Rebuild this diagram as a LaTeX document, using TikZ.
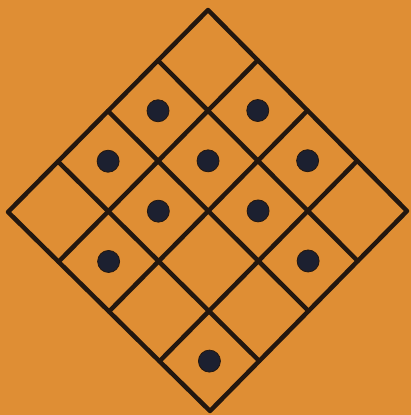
\documentclass[tikz,border=0pt]{standalone}
\usetikzlibrary{calc}
\definecolor{bg}{HTML}{DF8E34}
\definecolor{ink}{HTML}{23170F}
\definecolor{dotc}{HTML}{1C2030}
\tikzset{gridline/.style={draw=ink,line width=4.5pt,line cap=round,line join=round},
 blackdot/.style={circle,fill=dotc,draw=ink,line width=0.8pt,minimum size=22pt,inner sep=0pt}}
\begin{document}
\begin{tikzpicture}[x=1pt,y=-1pt]
\fill[bg] (0,0) rectangle (411,415);
\useasboundingbox (0,0) rectangle (411,415);
\coordinate (T) at (208,10);
\coordinate (R) at (407,211);
\coordinate (B) at (210,411);
\coordinate (L) at (8,212);
\draw[gridline] (T) -- (R) -- (B) -- (L) -- cycle;
\foreach \k in {1,2,3}{
  \draw[gridline] ($(T)!\k/4!(R)$) -- ($(L)!\k/4!(B)$);
  \draw[gridline] ($(T)!\k/4!(L)$) -- ($(R)!\k/4!(B)$);
}
\foreach \i/\j [count=\n] in {0/1,1/0,0/2,1/1,2/0,1/2,2/1,1/3,3/1,3/3}{
  \node[blackdot] (d\n) at ($ ($(T)!{(\i+0.5)/4}!(R)$)!{(\j+0.5)/4}!($(L)!{(\i+0.5)/4}!(B)$) $) {};
}
\end{tikzpicture}
\end{document}
